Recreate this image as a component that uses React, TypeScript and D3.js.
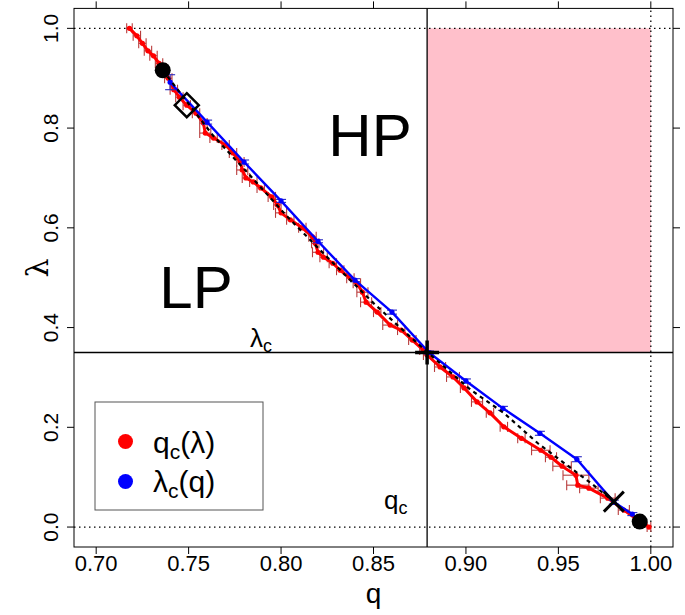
import React from "react";
import * as d3 from "d3";

const W = 685;
const H = 615;

const xTicks = [0.7, 0.75, 0.8, 0.85, 0.9, 0.95, 1.0];
const xTickLabels = ["0.70", "0.75", "0.80", "0.85", "0.90", "0.95", "1.00"];
const yTicks = [0.0, 0.2, 0.4, 0.6, 0.8, 1.0];
const yTickLabels = ["0.0", "0.2", "0.4", "0.6", "0.8", "1.0"];

// q_c(lambda): red series (horizontal error bars in q)
const redLambda = [1.0, 0.985, 0.97, 0.955, 0.945, 0.93, 0.92, 0.9, 0.877, 0.862, 0.846, 0.83, 0.81, 0.79, 0.78, 0.766, 0.75, 0.732, 0.716, 0.7, 0.692, 0.68, 0.662, 0.646, 0.63, 0.616, 0.6, 0.582, 0.569, 0.551, 0.541, 0.529, 0.515, 0.499, 0.489, 0.471, 0.451, 0.431, 0.405, 0.395, 0.375, 0.355, 0.345, 0.321, 0.301, 0.279, 0.251, 0.229, 0.201, 0.178, 0.154, 0.14, 0.122, 0.104, 0.084, 0.078, 0.058, 0.034, 0.014, 0.0];
const redQ = [0.718, 0.722, 0.725, 0.728, 0.731, 0.734, 0.736, 0.739, 0.742, 0.745, 0.749, 0.754, 0.758, 0.759, 0.7635, 0.77, 0.774, 0.778, 0.779, 0.781, 0.785, 0.789, 0.795, 0.798, 0.8, 0.805, 0.8115, 0.817, 0.8185, 0.82, 0.823, 0.828, 0.832, 0.8375, 0.841, 0.844, 0.846, 0.852, 0.859, 0.865, 0.871, 0.877, 0.879, 0.886, 0.893, 0.899, 0.906, 0.913, 0.9205, 0.93, 0.9405, 0.946, 0.952, 0.9595, 0.9605, 0.9665, 0.9767, 0.9854, 0.993, 0.999];
const redErr = [0.0015, 0.002, 0.002, 0.002, 0.002, 0.002, 0.002, 0.002, 0.002, 0.002, 0.002, 0.002, 0.002, 0.003, 0.002, 0.002, 0.002, 0.002, 0.003, 0.002, 0.002, 0.002, 0.002, 0.002, 0.003, 0.002, 0.002, 0.002, 0.002, 0.003, 0.002, 0.002, 0.002, 0.002, 0.002, 0.003, 0.003, 0.002, 0.004, 0.002, 0.002, 0.002, 0.002, 0.003, 0.0035, 0.002, 0.003, 0.002, 0.002, 0.002, 0.005, 0.003, 0.005, 0.007, 0.006, 0.005, 0.004, 0.003, 0.002, 0.001];

// lambda_c(q): blue series (vertical error bars in lambda)
const blueQ = [0.74, 0.76, 0.78, 0.8, 0.82, 0.84, 0.86, 0.88, 0.9, 0.92, 0.94, 0.96, 0.98, 0.99];
const blueLambda = [0.892, 0.812, 0.732, 0.654, 0.573, 0.495, 0.431, 0.35, 0.293, 0.238, 0.188, 0.136, 0.05, 0.026];
const blueErr = [0.015, 0.004, 0.004, 0.003, 0.003, 0.003, 0.004, 0.003, 0.004, 0.004, 0.004, 0.005, 0.004, 0.003];

// dashed reference curve
const dashQ = [0.736, 0.763, 0.782, 0.8035, 0.825, 0.85, 0.87, 0.879, 0.9026, 0.9204, 0.9389, 0.9676, 0.98];
const dashLambda = [0.916, 0.786, 0.71, 0.622, 0.541, 0.449, 0.381, 0.351, 0.275, 0.229, 0.168, 0.088, 0.051];

const qC = 0.879;
const lambdaC = 0.35;
const startPt = [0.736, 0.916];
const diamondPt = [0.749, 0.846];
const endPt = [0.994, 0.011];
const crossPt = [0.98, 0.051];

const FONT = "'Liberation Sans', Arial, sans-serif";

export default function App() {
  const x = d3.scaleLinear().domain([0.688, 1.012]).range([74, 673]);
  const y = d3.scaleLinear().domain([-0.04, 1.04]).range([547, 8.4]);
  const [x0, x1] = x.range();
  const [y0, y1] = y.range();

  const redData = redLambda.map((l, i) => ({ q: redQ[i], l, e: redErr[i] }));
  const blueData = blueQ.map((q, i) => ({ q, l: blueLambda[i], e: blueErr[i] }));
  const dashData = dashQ.map((q, i) => ({ q, l: dashLambda[i] }));

  const line = d3
    .line<{ q: number; l: number }>()
    .x((d) => x(d.q))
    .y((d) => y(d.l));

  const cap = 5;
  const redBarColor = "#b83c3c";
  const blueBarColor = "#2828c0";

  return (
    <div style={{ position: "absolute", left: 0, top: 0 }}>
      <svg width={W} height={H} style={{ display: "block", background: "#fff" }}>
        <rect x={0} y={0} width={W} height={H} fill="#fff" />
        {/* pink region */}
        <rect
          x={x(qC)}
          y={y(1)}
          width={x(1) - x(qC)}
          height={y(lambdaC) - y(1)}
          fill="#ffc0cb"
        />
        {/* dotted reference lines */}
        <line x1={x0} x2={x1} y1={y(1)} y2={y(1)} stroke="#000" strokeWidth={1.3} strokeDasharray="1.5,3.5" />
        <line x1={x0} x2={x1} y1={y(0)} y2={y(0)} stroke="#000" strokeWidth={1.3} strokeDasharray="1.5,3.5" />
        <line x1={x(1)} x2={x(1)} y1={y0} y2={y1} stroke="#000" strokeWidth={1.3} strokeDasharray="1.5,3.5" />
        {/* critical lines */}
        <line x1={x(qC)} x2={x(qC)} y1={y0} y2={y1} stroke="#000" strokeWidth={1.3} />
        <line x1={x0} x2={x1} y1={y(lambdaC)} y2={y(lambdaC)} stroke="#000" strokeWidth={1.3} />

        {/* red error bars */}
        {redData.map((d, i) => (
          <g key={"re" + i} stroke={redBarColor} strokeWidth={1.1}>
            <line x1={x(d.q - d.e)} x2={x(d.q + d.e)} y1={y(d.l)} y2={y(d.l)} />
            <line x1={x(d.q - d.e)} x2={x(d.q - d.e)} y1={y(d.l) - cap} y2={y(d.l) + cap} />
            <line x1={x(d.q + d.e)} x2={x(d.q + d.e)} y1={y(d.l) - cap} y2={y(d.l) + cap} />
          </g>
        ))}
        {/* red line */}
        <path d={line(redData) || ""} fill="none" stroke="#ff0000" strokeWidth={3} strokeLinejoin="round" />
        {redData.map((d, i) => (
          <circle key={"rp" + i} cx={x(d.q)} cy={y(d.l)} r={2.6} fill="#ff0000" />
        ))}

        {/* blue error bars */}
        {blueData.map((d, i) => (
          <g key={"be" + i} stroke={blueBarColor} strokeWidth={1.1}>
            <line x1={x(d.q)} x2={x(d.q)} y1={y(d.l - d.e)} y2={y(d.l + d.e)} />
            <line x1={x(d.q) - cap} x2={x(d.q) + cap} y1={y(d.l - d.e)} y2={y(d.l - d.e)} />
            <line x1={x(d.q) - cap} x2={x(d.q) + cap} y1={y(d.l + d.e)} y2={y(d.l + d.e)} />
          </g>
        ))}
        <path d={line(blueData) || ""} fill="none" stroke="#0000ff" strokeWidth={2.4} strokeLinejoin="round" />
        {blueData.map((d, i) => (
          <circle key={"bp" + i} cx={x(d.q)} cy={y(d.l)} r={2.6} fill="#0000ff" />
        ))}

        {/* dashed reference curve */}
        <path d={line(dashData) || ""} fill="none" stroke="#000" strokeWidth={2.2} strokeDasharray="4,4" />

        {/* markers */}
        <circle cx={x(startPt[0])} cy={y(startPt[1])} r={8} fill="#000" />
        <circle cx={x(endPt[0])} cy={y(endPt[1])} r={8} fill="#000" />
        <path
          d={`M${x(diamondPt[0])},${y(diamondPt[1]) - 12} L${x(diamondPt[0]) + 12},${y(diamondPt[1])} L${x(diamondPt[0])},${y(diamondPt[1]) + 12} L${x(diamondPt[0]) - 12},${y(diamondPt[1])} Z`}
          fill="none"
          stroke="#000"
          strokeWidth={2.5}
        />
        <g stroke="#000" strokeWidth={3}>
          <line x1={x(crossPt[0]) - 10} x2={x(crossPt[0]) + 10} y1={y(crossPt[1]) - 10} y2={y(crossPt[1]) + 10} />
          <line x1={x(crossPt[0]) - 10} x2={x(crossPt[0]) + 10} y1={y(crossPt[1]) + 10} y2={y(crossPt[1]) - 10} />
        </g>
        <g stroke="#000" strokeWidth={3.5}>
          <line x1={x(qC) - 12} x2={x(qC) + 12} y1={y(lambdaC)} y2={y(lambdaC)} />
          <line x1={x(qC)} x2={x(qC)} y1={y(lambdaC) - 12} y2={y(lambdaC) + 12} />
        </g>

        {/* region labels */}
        <text x={370} y={156} fontFamily={FONT} fontSize={60} textAnchor="middle" fill="#000">HP</text>
        <text x={196} y={308} fontFamily={FONT} fontSize={60} textAnchor="middle" fill="#000">LP</text>
        <text x={250} y={347} fontFamily={FONT} fontSize={26} fill="#000">
          λ<tspan dy={5} fontSize={18}>c</tspan>
        </text>
        <text x={384} y={509} fontFamily={FONT} fontSize={26} fill="#000">
          q<tspan dy={5} fontSize={18}>c</tspan>
        </text>

        {/* legend */}
        <rect x={95} y={402} width={168} height={108} fill="#fff" stroke="#555" strokeWidth={1} />
        <circle cx={125.5} cy={441.5} r={7.5} fill="#ff0000" />
        <circle cx={125.5} cy={481.5} r={7.5} fill="#0000ff" />
        <text x={153} y={453} fontFamily={FONT} fontSize={30} fill="#000">
          q<tspan dy={6} fontSize={21}>c</tspan>
          <tspan dy={-6}>(λ)</tspan>
        </text>
        <text x={153} y={492} fontFamily={FONT} fontSize={30} fill="#000">
          λ<tspan dy={6} fontSize={21}>c</tspan>
          <tspan dy={-6}>(q)</tspan>
        </text>

        {/* box and axes */}
        <rect x={x0} y={y1} width={x1 - x0} height={y0 - y1} fill="none" stroke="#000" strokeWidth={1} />
        {xTicks.map((t, i) => (
          <g key={"xt" + i}>
            <line x1={x(t)} x2={x(t)} y1={y0} y2={y0 + 7} stroke="#000" strokeWidth={1} />
            <line x1={x(t)} x2={x(t)} y1={y1} y2={y1 - 7} stroke="#000" strokeWidth={1} />
            <text x={x(t)} y={571} fontFamily={FONT} fontSize={22} textAnchor="middle" fill="#000">
              {xTickLabels[i]}
            </text>
          </g>
        ))}
        {yTicks.map((t, i) => (
          <g key={"yt" + i}>
            <line x1={x0} x2={x0 - 7} y1={y(t)} y2={y(t)} stroke="#000" strokeWidth={1} />
            <line x1={x1} x2={x1 + 7} y1={y(t)} y2={y(t)} stroke="#000" strokeWidth={1} />
            <text
              transform={`translate(58,${y(t)}) rotate(-90)`}
              fontFamily={FONT}
              fontSize={21}
              textAnchor="middle"
              fill="#000"
            >
              {yTickLabels[i]}
            </text>
          </g>
        ))}
        <text x={(x0 + x1) / 2} y={603} fontFamily={FONT} fontSize={28} textAnchor="middle" fill="#000">q</text>
        <text
          transform={`translate(48,268) rotate(-90)`}
          fontFamily="'DejaVu Serif', 'Liberation Serif', serif"
          fontSize={30}
          textAnchor="middle"
          fill="#000"
        >
          λ
        </text>
      </svg>
    </div>
  );
}
